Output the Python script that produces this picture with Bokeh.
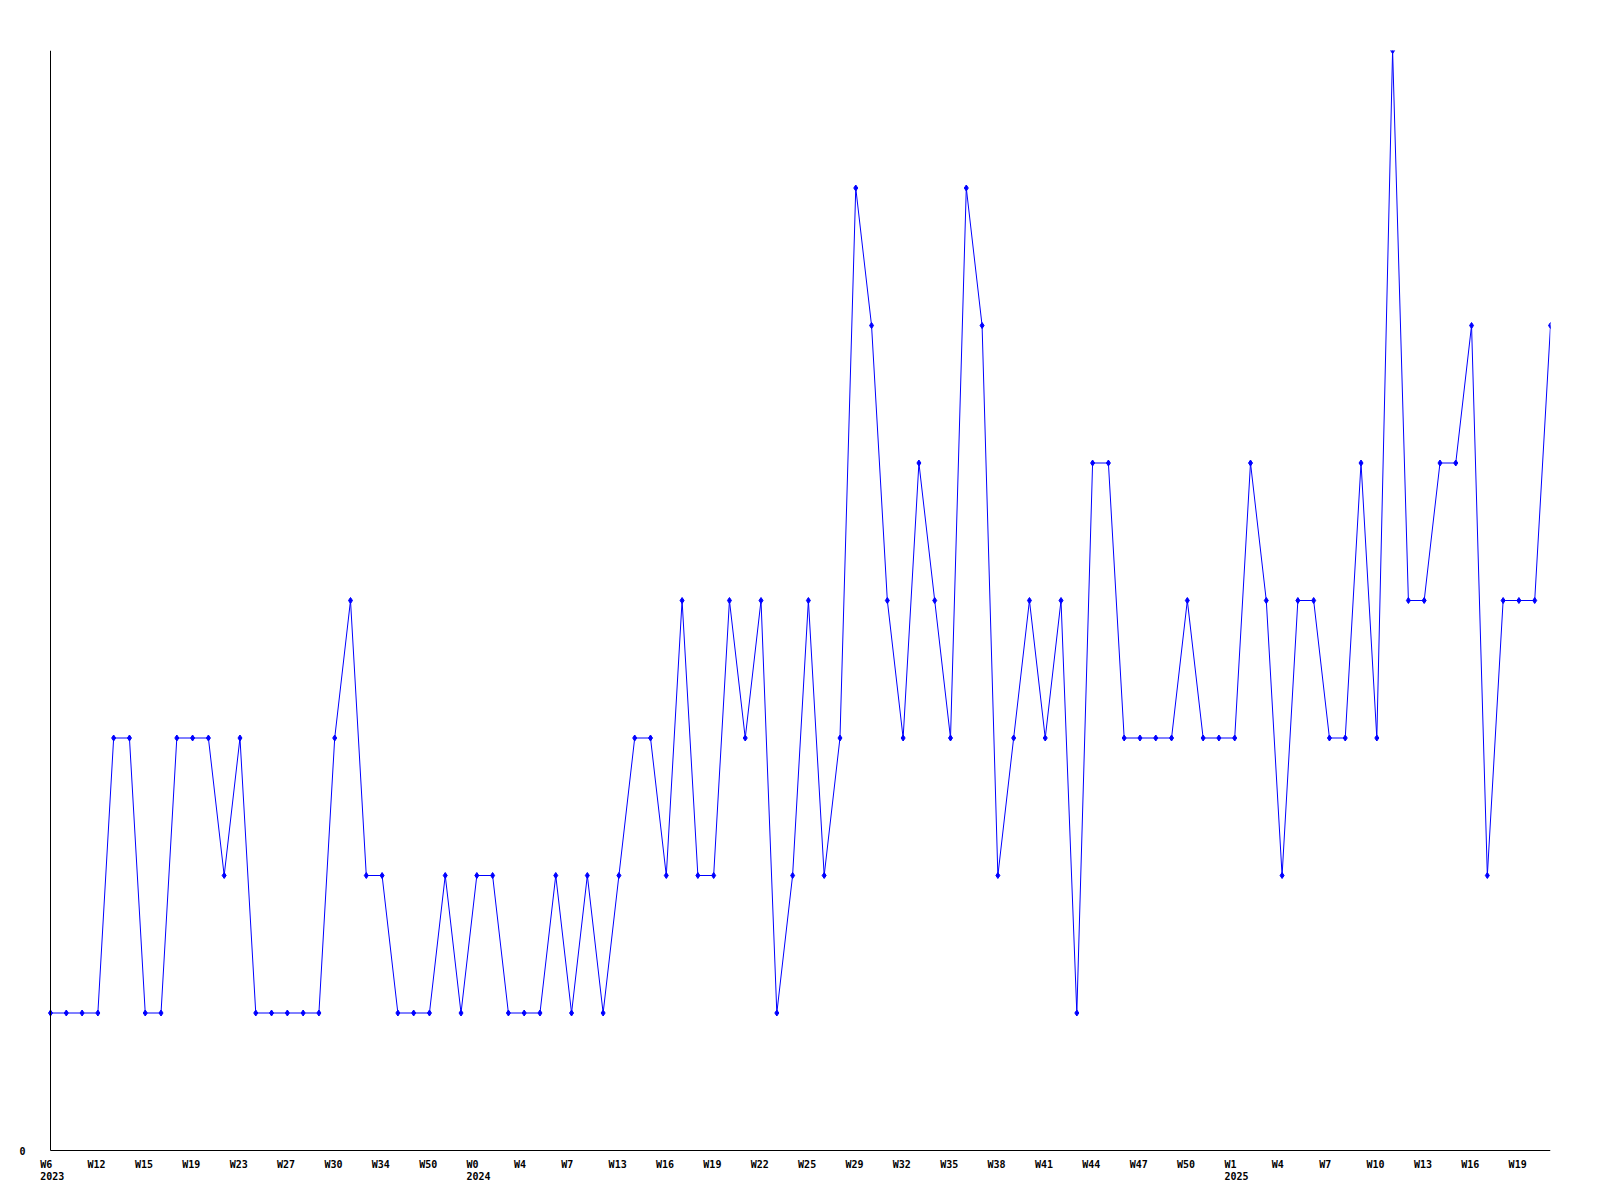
from bokeh.plotting import figure
from bokeh.models import Range1d, FixedTicker, LinearAxis, ColumnDataSource
from bokeh.embed import file_html
from bokeh.resources import INLINE

# ---- data ----
values = [1, 1, 1, 1, 3, 3, 1, 1, 3, 3, 3, 2, 3, 1, 1, 1, 1, 1, 3, 4,
          2, 2, 1, 1, 1, 2, 1, 2, 2, 1, 1, 1, 2, 1, 2, 1, 2, 3, 3, 2,
          4, 2, 2, 4, 3, 4, 1, 2, 4, 2, 3, 7, 6, 4, 3, 5, 4, 3, 7, 6,
          2, 3, 4, 3, 4, 1, 5, 5, 3, 3, 3, 3, 4, 3, 3, 3, 5, 4, 2, 4,
          4, 3, 3, 5, 3, 8, 4, 4, 5, 5, 6, 2, 4, 4, 4, 6]
week_index = list(range(len(values)))

tick_positions = list(range(0, 96, 3))
tick_labels = ["W6", "W12", "W15", "W19", "W23", "W27", "W30", "W34", "W50", "W0",
               "W4", "W7", "W13", "W16", "W19", "W22", "W25", "W29", "W32", "W35",
               "W38", "W41", "W44", "W47", "W50", "W1", "W4", "W7", "W10", "W13",
               "W16", "W19"]
year_positions = [0, 27, 75]
year_labels = ["2023", "2024", "2025"]

# ---- style / layout ----
FONT = "DejaVu Sans Mono"
FONT_PX = 10
CHAR_W = 0.602 * FONT_PX      # advance of the monospace font
BLUE = "#0000ff"
X_END = 95
Y_TOP = 8
PX_PER_X = 1500 / X_END       # 1500 px for the data span
PX_PER_Y = 1100 / Y_TOP       # 1100 px for the value span
LEFT_ROOM = 34                 # px of frame left of x=0 (for the "0" label)
BOTTOM_ROOM = 40               # px of frame below y=0 (for week/year labels)
FRAME_W = 1500 + LEFT_ROOM
FRAME_H = 1100 + BOTTOM_ROOM
X_START = -LEFT_ROOM / PX_PER_X
Y_START = -BOTTOM_ROOM / PX_PER_Y
LABEL_LEFT = -10.3             # labels start this many px before their tick


def shifted(positions, labels):
    """Bokeh centres tick labels; shift the (invisible) ticks so that the
    labels start LABEL_LEFT px from their point, as in the original."""
    return [round(p + (LABEL_LEFT + CHAR_W * len(t) / 2) / PX_PER_X, 4)
            for p, t in zip(positions, labels)]


p = figure(frame_width=FRAME_W, frame_height=FRAME_H,
           min_border_left=50 - LEFT_ROOM, min_border_top=50,
           min_border_right=34, min_border_bottom=0,
           x_range=Range1d(X_START, X_END), y_range=Range1d(Y_START, Y_TOP),
           output_backend="svg", toolbar_location=None,
           background_fill_color="white", border_fill_color="white")
p.outline_line_color = None
p.grid.visible = False


def style_labels(ax):
    ax.major_tick_line_color = None
    ax.minor_tick_line_color = None
    ax.major_tick_out = 0
    ax.major_tick_in = 0
    ax.minor_tick_out = 0
    ax.major_label_text_font = FONT
    ax.major_label_text_font_style = "bold"
    ax.major_label_text_font_size = f"{FONT_PX}px"
    ax.major_label_text_color = "black"


# y axis at x=0: line from 0 to top, only the "0" label
yax = p.yaxis[0]
yax.fixed_location = 0
yax.bounds = (0, Y_TOP)
yax.ticker = FixedTicker(ticks=[0])
yax.major_label_standoff = 25
yax.axis_line_color = "black"
style_labels(yax)

# x axis at y=0: week labels (no line)
wk_ticks = shifted(tick_positions, tick_labels)
xax = p.xaxis[0]
xax.fixed_location = 0
xax.ticker = FixedTicker(ticks=wk_ticks)
xax.major_label_overrides = dict(zip(wk_ticks, tick_labels))
xax.major_label_standoff = 8
xax.axis_line_color = None
style_labels(xax)

# second x axis at y=0: axis line and year labels
yr_ticks = shifted(year_positions, year_labels)
yrax = LinearAxis(fixed_location=0, bounds=(0, X_END),
                  ticker=FixedTicker(ticks=yr_ticks),
                  major_label_overrides=dict(zip(yr_ticks, year_labels)),
                  major_label_standoff=21, axis_line_color="black")
style_labels(yrax)
p.add_layout(yrax, "below")

src = ColumnDataSource(data=dict(x=week_index, y=values))
p.line("x", "y", source=src, line_color=BLUE, line_width=1)
p.scatter("x", "y", source=src, marker="diamond", size=6,
          fill_color=BLUE, line_color=BLUE)

open("out.html", "w").write(file_html(p, INLINE))
